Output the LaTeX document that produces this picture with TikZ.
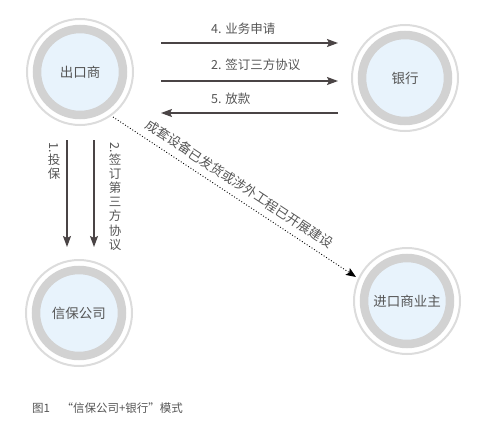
\documentclass[tikz,border=0pt]{standalone}
\usepackage{graphicx}
\usepackage{fontspec}
\setmainfont{Noto Sans CJK SC}
\usetikzlibrary{arrows.meta}
\definecolor{ringgray}{HTML}{D2D2D2}
\definecolor{halogray}{HTML}{DCDCDC}
\definecolor{nodeblue}{HTML}{E8F3FC}
\definecolor{txtgray}{HTML}{555555}
\definecolor{arrowgray}{HTML}{4A4445}

\begin{document}
\begin{tikzpicture}[
    x=1pt, y=-1pt,
    party/.style={circle, draw=ringgray, line width=8.5pt, fill=nodeblue, minimum size=86pt, text=txtgray, font=\fontsize{13.5}{15}\selectfont},
    halo/.style={draw=halogray, line width=2pt},
    flow/.style={draw=arrowgray, line width=1.5pt, -{Stealth[length=11pt, width=8pt, inset=2pt]}},
    ship/.style={draw=black, dotted, line width=0.9pt, -{Stealth[length=10pt, width=8pt, inset=2pt]}},
    lbl/.style={text=txtgray, font=\fontsize{12.5}{14.2}\selectfont, inner sep=0pt},
    vlbl/.style={lbl, anchor=north, align=center}
]
\useasboundingbox (0,0) rectangle (504,434);

\node[party] (exp) at (80,72) {出口商};
\node[party] (bank) at (405,78) {银行};
\node[party] (ins) at (79,313) {信保公司};
\node[party] (imp) at (407,301) {进口商业主};

\foreach \n in {exp,bank,ins,imp}
    \draw[halo] (\n.center) circle (53);

% arrow ends
\coordinate (apply0) at (161,43);
\coordinate (apply1) at (338,43);
\coordinate (sign0) at (161,81);
\coordinate (sign1) at (338,81);
\coordinate (loan0) at (338,113);
\coordinate (loan1) at (161,113);
\coordinate (insure0) at (67,140);
\coordinate (insure1) at (67,247);
\coordinate (signins0) at (94,140);
\coordinate (signins1) at (94,247);
\coordinate (ship0) at (113,117);
\coordinate (ship1) at (356,277);

\draw[flow] (apply0) -- (apply1);
\draw[flow] (sign0) -- (sign1);
\draw[flow] (loan0) -- (loan1);
\draw[flow] (insure0) -- (insure1);
\draw[flow] (signins0) -- (signins1);
\draw[ship] (ship0) -- node[lbl, font=\fontsize{13}{15}\selectfont, pos=0.49, sloped, above=7pt] {成套设备已发货或涉外工程已开展建设} (ship1);

\node[lbl, anchor=west] (applytxt) at (211,29) {4. 业务申请};
\node[lbl, anchor=west] (signtxt) at (211,65) {2. 签订三方协议};
\node[lbl, anchor=west] (loantxt) at (211,99) {5. 放款};
\node[vlbl] (insuretxt) at (54,142) {\rotatebox{-90}{1.}\\投\\保};
\node[vlbl] (signinstxt) at (115,142) {\rotatebox{-90}{2.}\\签\\订\\第\\三\\方\\协\\议};

\node[text=txtgray, font=\fontsize{11.5}{13}\selectfont, anchor=west, inner sep=0pt] (caption) at (32,408) {图1\quad“信保公司+银行”模式};

\end{tikzpicture}
\end{document}
